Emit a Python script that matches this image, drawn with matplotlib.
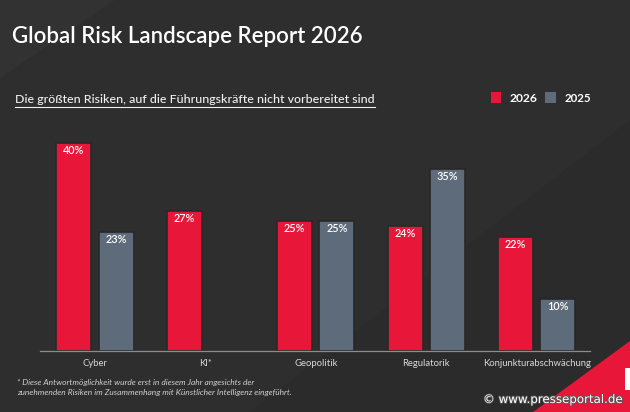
import matplotlib
matplotlib.use("Agg")
import matplotlib.pyplot as plt
from matplotlib.patches import Polygon, Rectangle
from matplotlib.lines import Line2D
import matplotlib.patheffects as pe
import numpy as np

# ---- data ----
categories = ["Cyber", "KI*", "Geopolitik", "Regulatorik", "Konjunkturabschwächung"]
values_2026 = [40, 27, 25, 24, 22]
values_2025 = [23, None, 25, 35, 10]
series_labels = ["2026", "2025"]

title = "Global Risk Landscape Report 2026"
subtitle = "Die größten Risiken, auf die Führungskräfte nicht vorbereitet sind"
footnote = ["* Diese Antwortmöglichkeit wurde erst in diesem Jahr angesichts der",
            "zunehmenden Risiken im Zusammenhang mit Künstlicher Intelligenz eingeführt."]
watermark = "© www.presseportal.de"

# ---- style ----
BG = "#2e2e2e"
RED = "#e8173a"
GREY = "#5d6b7a"
W, H = 630, 412
FONT = ["Lato", "DejaVu Sans"]

fig = plt.figure(figsize=(W / 100, H / 100), dpi=100, facecolor=BG)

def fx(x):
    return x / W

def fy(y):
    return 1 - y / H

# background decorations
bgax = fig.add_axes([0, 0, 1, 1], zorder=-5)
bgax.set_xlim(0, W)
bgax.set_ylim(H, 0)
bgax.axis("off")
bgax.add_patch(Polygon([[630, 120], [630, 412], [250, 412]], closed=True,
                       facecolor="#2b2b2b", edgecolor="none"))
bgax.add_patch(Polygon([[0, 0], [115, 0], [0, 78]], closed=True,
                       facecolor="#323232", edgecolor="none"))
bgax.add_patch(Polygon([[533, 412], [630, 341], [630, 412]], closed=True,
                       facecolor=RED, edgecolor="none"))
bgax.add_patch(Rectangle((625, 368), 5, 22, facecolor="white", edgecolor="none"))

# main axes
x0, x1 = 40, 590
base_y, top_y = 351, 130
px_per_unit = 110.4
center0 = 95
ax = fig.add_axes([fx(x0), 1 - base_y / H, (x1 - x0) / W, (base_y - top_y) / H])
ax.set_facecolor("none")
ax.set_xlim((x0 - center0) / px_per_unit, (x1 - center0) / px_per_unit)
ax.set_ylim(0, (base_y - top_y) / 5.19)

x = np.arange(len(categories))
bw = 0.317
off = 0.192
for xi, v in zip(x, values_2026):
    if v is None:
        continue
    ax.bar(xi - off, v, width=bw, color=RED, edgecolor="#282828", linewidth=1.2)
    ax.text(xi - off, v - 1.45, f"{v}%", ha="center", va="center", color="white",
            fontsize=7.8, family=FONT, fontweight="semibold")
for xi, v in zip(x, values_2025):
    if v is None:
        continue
    ax.bar(xi + off, v, width=bw, color=GREY, edgecolor="#282828", linewidth=1.2)
    ax.text(xi + off, v - 1.45, f"{v}%", ha="center", va="center", color="white",
            fontsize=7.8, family=FONT, fontweight="semibold")

for s in ["top", "right", "left"]:
    ax.spines[s].set_visible(False)
ax.spines["bottom"].set_color("#8c8c8c")
ax.spines["bottom"].set_linewidth(0.9)
ax.set_yticks([])
ax.set_xticks(x)
ax.set_xticklabels(categories, color="#d8d8d8", fontsize=6.8, family=FONT)
ax.tick_params(axis="x", length=0, pad=6)

renderer = fig.canvas.get_renderer()

def fit_text(xpx, ypx, s, target_w, **kw):
    t = fig.text(fx(xpx), fy(ypx), s, va="baseline", ha="left", **kw)
    fs = kw.get("fontsize", 10)
    w = t.get_window_extent(renderer).width
    t.set_fontsize(fs * target_w / w)
    return t

fit_text(12, 43, title, 350, color="white", fontsize=14, family=FONT,
         fontweight="semibold")
st = fit_text(15, 103, subtitle, 361, color="#f0f0f0", fontsize=8, family=FONT,
              fontweight="medium")
ext = st.get_window_extent(renderer)
fig.add_artist(Line2D([fx(ext.x0), fx(ext.x1)], [fy(106.5), fy(106.5)],
                      color="#f0f0f0", linewidth=0.8, transform=fig.transFigure))

# legend
fig.add_artist(Rectangle((fx(491), fy(103)), 10 / W, 11 / H, facecolor=RED,
                         edgecolor="none", transform=fig.transFigure))
fit_text(510, 102, series_labels[0], 28, color="white", fontsize=8, family=FONT,
         fontweight="bold")
fig.add_artist(Rectangle((fx(545), fy(103)), 11 / W, 11 / H, facecolor=GREY,
                         edgecolor="none", transform=fig.transFigure))
fit_text(565, 102, series_labels[1], 27, color="white", fontsize=8, family=FONT,
         fontweight="bold")

# footnote
fit_text(17, 385, footnote[0], 238, color="#d0d0d0", fontsize=5, family=FONT,
         style="italic")
fit_text(17, 395, footnote[1], 278, color="#d0d0d0", fontsize=5, family=FONT,
         style="italic")

# watermark
fit_text(483, 403, watermark, 140, color="white", fontsize=9, family=["DejaVu Sans"],
         path_effects=[pe.withStroke(linewidth=1.2, foreground="#555555")])

fig.savefig("out.png", dpi=100, facecolor=BG)
